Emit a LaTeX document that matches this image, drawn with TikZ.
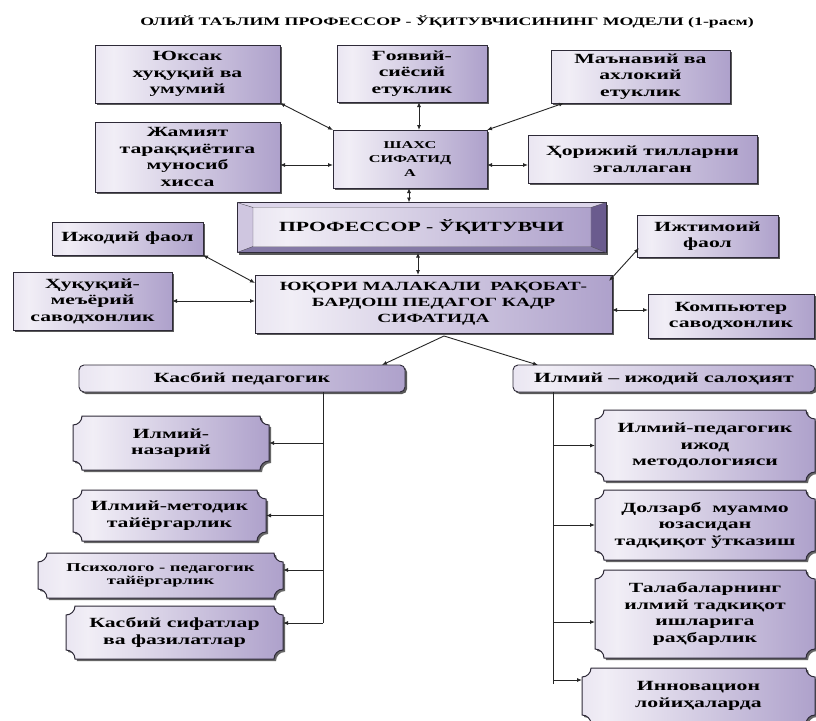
\documentclass[tikz,border=0pt]{standalone}
\usepackage{fontspec}
\setmainfont{Liberation Serif}[FakeStretch=1.55]
\usetikzlibrary{arrows.meta,shadows,backgrounds,calc}
\definecolor{lvA}{HTML}{C6BCDB}
\definecolor{lvB}{HTML}{F1EEF6}
\definecolor{lvC}{HTML}{AEA1CB}
\definecolor{lvD}{HTML}{8A7AB0}
\definecolor{edge}{HTML}{2E2A38}
\definecolor{bvtop}{HTML}{DCD5EA}
\definecolor{bvleft}{HTML}{CFC6E0}
\definecolor{bvright}{HTML}{6A5B8E}
\definecolor{bvbot}{HTML}{857AA6}
\pgfdeclarehorizontalshading{boxshade}{100bp}{color(0bp)=(lvA); color(30bp)=(lvB); color(75bp)=(lvC); color(100bp)=(lvD)}
\tikzset{
 txt/.style={inner sep=0pt,outer sep=0pt,align=center,font=\bfseries\fontsize{14}{16.5}\selectfont},
 sz/.style 2 args={minimum width=#1pt,minimum height=#2pt},
 rbox/.style={txt,draw=edge,line width=0.9pt,shading=boxshade,
   drop shadow={shadow xshift=2pt,shadow yshift=-2pt,fill=black!65,opacity=1}},
 rndbox/.style={rbox,rounded corners=5pt},
 plq/.style={txt},
 link/.style={draw=black!85,line width=0.9pt},
 oneway/.style={link,-{Latex[length=5pt,width=4pt]}},
 twoway/.style={link,{Latex[length=5pt,width=4pt]}-{Latex[length=5pt,width=4pt]}},
 plqshadow/.style={fill=black!60},
 plqface/.style={draw=edge,line width=1pt,shading=boxshade},
}
\newcommand\plaque[2]{%
 \path[plqshadow,transform canvas={shift={(2pt,-2pt)}}] let \p1=(#1.south west), \p2=(#1.north east) in
  (\x1+#2,\y1) -- (\x2-#2,\y1) arc[start angle=180,end angle=90,radius=#2]
  -- (\x2,\y2-#2) arc[start angle=270,end angle=180,radius=#2]
  -- (\x1+#2,\y2) arc[start angle=0,end angle=-90,radius=#2]
  -- (\x1,\y1+#2) arc[start angle=90,end angle=0,radius=#2] -- cycle;
 \path[plqface] let \p1=(#1.south west), \p2=(#1.north east) in
  (\x1+#2,\y1) -- (\x2-#2,\y1) arc[start angle=180,end angle=90,radius=#2]
  -- (\x2,\y2-#2) arc[start angle=270,end angle=180,radius=#2]
  -- (\x1+#2,\y2) arc[start angle=0,end angle=-90,radius=#2]
  -- (\x1,\y1+#2) arc[start angle=90,end angle=0,radius=#2] -- cycle;
}
\begin{document}
\begin{tikzpicture}[x=1pt,y=1pt]
\useasboundingbox (0,0) rectangle (816,-720);

\node[txt,font=\bfseries\fontsize{11.5}{13}\selectfont] (T) at (447,-22) {ОЛИЙ ТАЪЛИМ ПРОФЕССОР - ЎҚИТУВЧИСИНИНГ МОДЕЛИ (1-расм)};

\node[rbox,sz={185}{58}] (A) at (187.5,-74) {Юксак\\хуқуқий ва\\умумий};
\node[rbox,sz={150}{57}] (B) at (412,-73.5) {Ғоявий-\\сиёсий\\етуклик};
\node[rbox,sz={179}{53}] (C) at (640.5,-76.5) {Маънавий ва\\ахлокий\\етуклик};
\node[rbox,sz={185}{70}] (D) at (187.5,-157) {Жамият\\тараққиётига\\муносиб\\хисса};
\node[rbox,sz={154}{58},font=\bfseries\fontsize{10.5}{14}\selectfont] (E) at (410,-159) {ШАХС\\СИФАТИД\\А};
\node[rbox,sz={229}{48}] (F) at (642.5,-159) {Ҳорижий тилларни\\эгаллаган};
\node[txt,sz={369}{50}] (G) at (421.5,-227.5) {ПРОФЕССОР - ЎҚИТУВЧИ};
\node[rbox,sz={151}{33}] (H) at (127.5,-238.5) {Ижодий фаол};
\node[rbox,sz={141}{42}] (I) at (707.5,-236) {Ижтимоий\\фаол};
\node[rbox,sz={159}{58}] (J) at (92.5,-301) {Ҳуқуқий-\\меъёрий\\саводхонлик};
\node[rbox,sz={357}{58},font=\bfseries\fontsize{12.5}{16}\selectfont] (K) at (433.5,-304) {ЮҚОРИ МАЛАКАЛИ\ \ РАҚОБАТ-\\БАРДОШ ПЕДАГОГ КАДР\\СИФАТИДА};
\node[rbox,sz={166}{44}] (L) at (731,-316) {Компьютер\\саводхонлик};
\node[rndbox,sz={326}{27}] (M) at (242,-378.5) {Касбий педагогик};
\node[rndbox,sz={302}{27}] (N) at (664,-378.5) {Илмий – ижодий салоҳият};

\node[plq,sz={196}{54}] (P1) at (171,-443) {Илмий-\\назарий};
\node[plq,sz={193}{51}] (P2) at (169.5,-515.5) {Илмий-методик\\тайёргарлик};
\node[plq,sz={245}{45},font=\bfseries\fontsize{12}{13.5}\selectfont] (P3) at (160.5,-575.5) {Психолого - педагогик\\тайёргарлик};
\node[plq,sz={217}{53}] (P4) at (174.5,-632.5) {Касбий сифатлар\\ва фазилатлар};
\node[plq,sz={220}{71}] (Q1) at (705,-445.5) {Илмий-педагогик\\ижод\\методологияси};
\node[plq,sz={220}{70}] (Q2) at (705,-525) {Долзарб\ \ муаммо\\юзасидан\\тадқиқот ўтказиш};
\node[plq,sz={220}{88}] (Q3) at (705,-614) {Талабаларнинг\\илмий тадкиқот\\ишларига\\раҳбарлик};
\node[plq,sz={233}{56}] (Q4) at (698.5,-696) {Инновацион\\лойиҳаларда};

\coordinate (gNW) at (G.north west);
\coordinate (gNE) at (G.north east);
\coordinate (gSW) at (G.south west);
\coordinate (gSE) at (G.south east);
\coordinate (iNW) at ([xshift=16pt,yshift=-5pt]G.north west);
\coordinate (iNE) at ([xshift=-15pt,yshift=-5pt]G.north east);
\coordinate (iSW) at ([xshift=16pt,yshift=6pt]G.south west);
\coordinate (iSE) at ([xshift=-15pt,yshift=6pt]G.south east);

\begin{pgfonlayer}{background}
\fill[white] (0,0) rectangle (816,-720);
\fill[black!65] ([shift={(2pt,-2pt)}]gNW) rectangle ([shift={(2pt,-2pt)}]gSE);
\fill[bvtop] (gNW) -- (gNE) -- (iNE) -- (iNW) -- cycle;
\fill[bvleft] (gNW) -- (iNW) -- (iSW) -- (gSW) -- cycle;
\fill[bvright] (gNE) -- (gSE) -- (iSE) -- (iNE) -- cycle;
\fill[bvbot] (gSW) -- (iSW) -- (iSE) -- (gSE) -- cycle;
\shade[shading=boxshade] (iNW) rectangle (iSE);
\draw[edge,line width=0.9pt] (gNW) rectangle (gSE);
\draw[edge!80,line width=0.4pt] (iNW) rectangle (iSE) (gNW) -- (iNW) (gNE) -- (iNE) (gSW) -- (iSW) (gSE) -- (iSE);
\plaque{P1}{9pt}
\plaque{P2}{9pt}
\plaque{P3}{9pt}
\plaque{P4}{9pt}
\plaque{Q1}{9pt}
\plaque{Q2}{9pt}
\plaque{Q3}{9pt}
\plaque{Q4}{9pt}
\end{pgfonlayer}

\draw[twoway] (A.south east) -- (E.north west);
\draw[twoway] ([xshift=7pt]B.south) -- ([xshift=7pt]B.south |- E.north);
\draw[twoway] ([xshift=13pt]C.south west) -- (E.north east);
\draw[twoway] ([yshift=-8pt]D.east) -- ([yshift=-8pt]D.east -| E.west);
\draw[twoway] ([yshift=-6pt]E.east) -- ([yshift=-6pt]E.east -| F.west);
\draw[twoway] ([xshift=-1pt]E.south) -- ([xshift=-1pt]E.south |- G.north);
\draw[twoway] ([xshift=-3.5pt]G.south) -- ([xshift=-3.5pt]G.south |- K.north);
\draw[twoway] (H.south east) -- ([yshift=-8pt]K.north west);
\draw[twoway] ([shift={(2pt,9pt)}]I.south west) -- ([shift={(-3pt,-6pt)}]K.north east);
\draw[twoway] (J.east) -- (J.east -| K.west);
\draw[twoway] ([yshift=6pt]L.west -| K.east) -- ([yshift=6pt]L.west);

\coordinate (apex) at ([xshift=10.5pt,yshift=-3pt]K.south);
\draw[oneway] (apex) -- ([xshift=140pt]M.north);
\draw[oneway] (apex) -- ([xshift=-126pt]N.north);

\coordinate (lt) at ([xshift=81pt]M.south);
\coordinate (rt) at ([xshift=-111pt]N.south);
\coordinate (p3a) at ([yshift=5.5pt]P3.east);
\coordinate (p4a) at ([yshift=9.5pt]P4.east);
\coordinate (q3a) at ([yshift=-8pt]Q3.west);
\coordinate (q4a) at ([yshift=16pt]Q4.west);
\draw[link] (lt) -- (lt |- p4a);
\draw[oneway] (lt |- P1.east) -- (P1.east);
\draw[oneway] (lt |- P2.east) -- (P2.east);
\draw[oneway] (lt |- p3a) -- (p3a);
\draw[oneway] (lt |- p4a) -- (p4a);
\draw[link] (rt) -- ([yshift=-4pt]rt |- q4a);
\draw[oneway] (rt |- Q1.west) -- (Q1.west);
\draw[oneway] (rt |- Q2.west) -- (Q2.west);
\draw[oneway] (rt |- q3a) -- (q3a);
\draw[oneway] (rt |- q4a) -- (q4a);
\end{tikzpicture}
\end{document}
